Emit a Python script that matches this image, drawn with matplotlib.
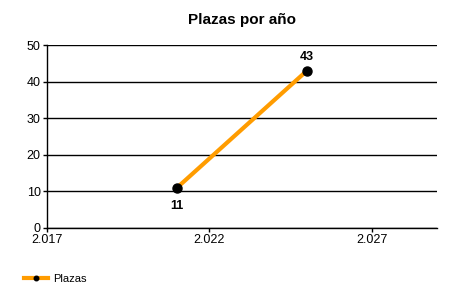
import matplotlib
matplotlib.use("Agg")
import matplotlib.pyplot as plt
from matplotlib.ticker import FuncFormatter, MultipleLocator

plt.rcParams["font.family"] = ["Liberation Sans", "DejaVu Sans"]

years = [2021, 2025]
plazas = [11, 43]
xticks = [2017, 2022, 2027]
series_name = "Plazas"
title = "Plazas por año"

fig = plt.figure(figsize=(4.5, 3), dpi=100)
ax = fig.add_axes([0.1044, 0.24, 0.8667, 0.61])

ax.plot(years, plazas, color="#FF9C00", linewidth=3.0, marker="o",
        markersize=6.5, markerfacecolor="black", markeredgecolor="black",
        label=series_name, zorder=3)

for x, y, off in zip(years, plazas, [-13, 10]):
    ax.annotate(str(y), (x, y), xytext=(0, off), textcoords="offset points",
                ha="center", va="center", fontsize=9, fontweight="bold")

ax.set_xlim(2017, 2029)
ax.set_ylim(0, 50)
ax.set_xticks(xticks)
ax.yaxis.set_major_locator(MultipleLocator(10))
ax.xaxis.set_major_formatter(FuncFormatter(lambda v, p: f"{int(v):,}".replace(",", ".")))
ax.grid(axis="y", color="black", linewidth=1.0)
ax.set_axisbelow(True)
for s in ("top", "right"):
    ax.spines[s].set_visible(False)
for s in ("left", "bottom"):
    ax.spines[s].set_linewidth(1.0)
ax.tick_params(labelsize=9, length=3, width=1, pad=1.5)

ax.set_title(title, fontsize=11, fontweight="bold", pad=15)

handles, labels = ax.get_legend_handles_labels()
fig.legend(handles, labels, loc="lower left", bbox_to_anchor=(0.03, 0.02),
           frameon=False, fontsize=8, handlelength=2.2, handletextpad=0.5,
           markerscale=0.5)

fig.savefig("out.png", dpi=100)
